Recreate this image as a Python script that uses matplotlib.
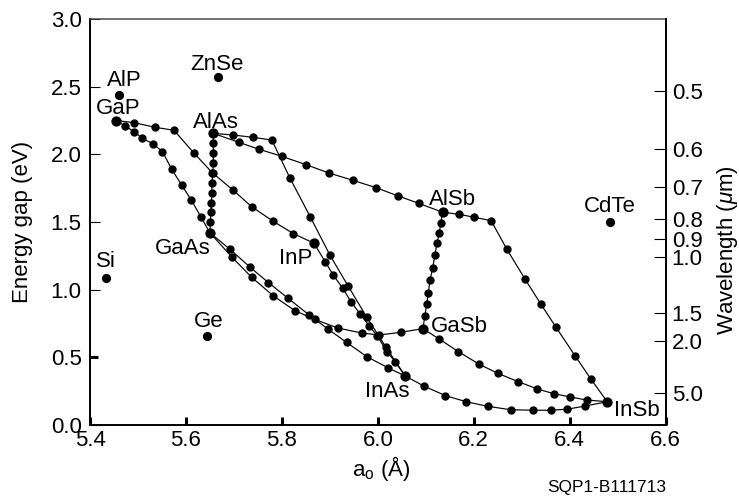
import matplotlib
matplotlib.use("Agg")
import matplotlib.pyplot as plt

plt.rcParams['font.family'] = ['Liberation Sans', 'DejaVu Sans']
plt.rcParams['mathtext.fontset'] = 'custom'
plt.rcParams['mathtext.rm'] = 'Liberation Sans'
plt.rcParams['mathtext.it'] = 'Liberation Sans:italic'
plt.rcParams['mathtext.bf'] = 'Liberation Sans:bold'

# ---------------- data ----------------
x_ticks = [5.4, 5.6, 5.8, 6.0, 6.2, 6.4, 6.6]
y_ticks = [0.0, 0.5, 1.0, 1.5, 2.0, 2.5, 3.0]
wavelength_labels = ['0.5', '0.6', '0.7', '0.8', '0.9', '1.0', '1.5', '2.0', '5.0']
wavelength_tick_energy = [2.468, 2.039, 1.756, 1.522, 1.373, 1.240, 0.825, 0.621, 0.239]

# binary compounds at the ends of the alloy curves
compound_names = ['GaP', 'AlAs', 'GaAs', 'InP', 'AlSb', 'GaSb', 'InAs', 'InSb']
compound_a = [5.454, 5.657, 5.650, 5.867, 6.135, 6.094, 6.057, 6.478]
compound_e = [2.250, 2.155, 1.420, 1.343, 1.572, 0.712, 0.362, 0.172]

# isolated materials
other_names = ['Si', 'Ge', 'AlP', 'ZnSe', 'CdTe']
other_a = [5.433, 5.643, 5.460, 5.666, 6.483]
other_e = [1.084, 0.658, 2.438, 2.569, 1.502]

# alloy curves
gap_gaas_a = [5.454, 5.472, 5.492, 5.509, 5.532, 5.551, 5.570, 5.591, 5.611, 5.631, 5.650]
gap_gaas_e = [2.250, 2.212, 2.167, 2.119, 2.076, 2.020, 1.892, 1.773, 1.663, 1.539, 1.420]

gap_inp_a = [5.454, 5.492, 5.535, 5.575, 5.616, 5.655, 5.699, 5.737, 5.782, 5.824, 5.867]
gap_inp_e = [2.250, 2.234, 2.200, 2.178, 2.012, 1.864, 1.733, 1.613, 1.505, 1.414, 1.343]

alas_gaas_a = [5.657, 5.657, 5.657, 5.657, 5.656, 5.654, 5.654, 5.653, 5.652, 5.651, 5.650]
alas_gaas_e = [2.155, 2.086, 2.012, 1.938, 1.864, 1.790, 1.717, 1.643, 1.576, 1.502, 1.420]

alas_inas_a = [5.657, 5.698, 5.739, 5.779, 5.817, 5.859, 5.900, 5.938, 5.977, 6.017, 6.057]
alas_inas_e = [2.155, 2.143, 2.126, 2.106, 1.823, 1.539, 1.256, 1.027, 0.796, 0.574, 0.362]

alas_alsb_a = [5.657, 5.710, 5.753, 5.800, 5.850, 5.898, 5.949, 5.996, 6.041, 6.086, 6.135]
alas_alsb_e = [2.155, 2.089, 2.037, 1.985, 1.924, 1.862, 1.807, 1.754, 1.694, 1.637, 1.572]

inp_inas_a = [5.867, 5.890, 5.907, 5.927, 5.944, 5.963, 5.982, 5.999, 6.019, 6.036, 6.057]
inp_inas_e = [1.343, 1.207, 1.108, 1.010, 0.911, 0.820, 0.732, 0.658, 0.542, 0.468, 0.362]

gaas_inas_a = [5.650, 5.692, 5.734, 5.772, 5.813, 5.856, 5.896, 5.935, 5.977, 6.021, 6.057]
gaas_inas_e = [1.420, 1.298, 1.165, 1.052, 0.936, 0.815, 0.709, 0.610, 0.505, 0.423, 0.362]

gaas_gasb_a = [5.650, 5.695, 5.737, 5.782, 5.827, 5.869, 5.916, 5.966, 6.003, 6.048, 6.094]
gaas_gasb_e = [1.420, 1.244, 1.091, 0.955, 0.845, 0.780, 0.717, 0.680, 0.665, 0.685, 0.712]

alsb_insb_a = [6.135, 6.169, 6.201, 6.236, 6.269, 6.307, 6.340, 6.371, 6.411, 6.444, 6.478]
alsb_insb_e = [1.572, 1.557, 1.535, 1.510, 1.298, 1.077, 0.892, 0.724, 0.512, 0.340, 0.172]

alsb_gasb_a = [6.135, 6.131, 6.128, 6.123, 6.119, 6.114, 6.109, 6.105, 6.102, 6.098, 6.094]
alsb_gasb_e = [1.572, 1.490, 1.417, 1.343, 1.253, 1.158, 1.071, 0.979, 0.896, 0.809, 0.712]

gasb_insb_a = [6.094, 6.128, 6.168, 6.210, 6.250, 6.292, 6.332, 6.367, 6.401, 6.435, 6.478]
gasb_insb_e = [0.712, 0.635, 0.542, 0.451, 0.382, 0.321, 0.267, 0.231, 0.207, 0.185, 0.172]

inas_insb_a = [6.057, 6.097, 6.141, 6.184, 6.229, 6.277, 6.323, 6.360, 6.395, 6.432, 6.478]
inas_insb_e = [0.362, 0.286, 0.217, 0.172, 0.138, 0.113, 0.109, 0.109, 0.117, 0.140, 0.172]

curves = [
    (gap_gaas_a, gap_gaas_e), (gap_inp_a, gap_inp_e), (alas_gaas_a, alas_gaas_e),
    (alas_inas_a, alas_inas_e), (alas_alsb_a, alas_alsb_e), (inp_inas_a, inp_inas_e),
    (gaas_inas_a, gaas_inas_e), (gaas_gasb_a, gaas_gasb_e), (alsb_insb_a, alsb_insb_e),
    (alsb_gasb_a, alsb_gasb_e), (gasb_insb_a, gasb_insb_e), (inas_insb_a, inas_insb_e),
]

# label placement (pixel offsets from the point: dx, dy up)
label_offsets = {
    'GaP': (1.8, 6.2), 'AlAs': (2.2, 5.0), 'GaAs': (-27.5, -21.3), 'InP': (-18.7, -20.7),
    'AlSb': (10.3, 7.3), 'GaSb': (36.3, -3.0), 'InAs': (-18.2, -20.7), 'InSb': (29.7, -14.0),
    'Si': (0.3, 11.0), 'Ge': (2.3, 9.3), 'AlP': (5.7, 9.0), 'ZnSe': (-1.0, 7.3), 'CdTe': (0.0, 9.4),
}

# ---------------- figure ----------------
W, H = 739, 496
fig = plt.figure(figsize=(W / 100, H / 100), dpi=100)
ax = fig.add_axes([90 / W, 1 - 425 / H, (665.7 - 90) / W, (425 - 19) / H])

FS = 16
for xs, ys in curves:
    ax.plot(xs, ys, color='black', lw=0.85, marker='o', ms=5.0,
            mfc='black', mec='black', zorder=3)
ax.plot(compound_a, compound_e, ls='none', marker='o', ms=6.4, color='black', zorder=4)
ax.plot(other_a, other_e, ls='none', marker='o', ms=5.6, color='black', zorder=4)

for n, a, e in zip(compound_names + other_names, compound_a + other_a, compound_e + other_e):
    dx, dy = label_offsets[n]
    ax.annotate(n, (a, e), xytext=(dx, dy), textcoords='offset pixels',
                ha='center', va='baseline', fontsize=FS)

ax.set_xlim(5.4, 6.6)
ax.set_ylim(0, 3.0)
ax.set_xticks(x_ticks, [f"{v:.1f}" for v in x_ticks])
ax.set_yticks(y_ticks, [f"{v:.1f}" for v in y_ticks])
ax.tick_params(axis='x', direction='in', length=5.8, width=2.2, labelsize=FS, pad=3.5)
ax.tick_params(axis='y', direction='in', length=7.2, width=0.8, labelsize=FS, pad=6)
ax.yaxis.get_major_ticks()[1].tick1line.set_markeredgewidth(2.2)
ax.yaxis.get_major_ticks()[1].tick1line.set_markersize(5.8)

for s in ['left', 'bottom', 'right']:
    ax.spines[s].set_linewidth(1.4)
    ax.spines[s].set_color('black')
ax.spines['top'].set_linewidth(1.1)
ax.spines['top'].set_color('#4a4a4a')

ax2 = ax.twinx()
ax2.set_ylim(0, 3.0)
ax2.set_yticks(wavelength_tick_energy, wavelength_labels)
ax2.tick_params(axis='y', direction='in', length=8.6, width=0.8, labelsize=FS, pad=4.3)
for s in ['left', 'bottom', 'top']:
    ax2.spines[s].set_visible(False)
ax2.spines['right'].set_linewidth(1.4)

fig.text(23 / W, 1 - 221.5 / H, 'Energy gap (eV)', rotation=90, ha='center', va='center', fontsize=FS)
fig.text(728 / W, 1 - 250 / H, r'Wavelength ($\mu$m)', rotation=90, ha='center', va='center', fontsize=FS)
fig.text(381 / W, 1 - 476 / H, r'a$_\mathregular{o}$ (Å)', ha='center', va='baseline', fontsize=FS)
fig.text(665.7 / W, 4.0 / H, 'SQP1-B111713', ha='right', va='baseline', fontsize=12.4)

fig.savefig('out.png', dpi=100)
